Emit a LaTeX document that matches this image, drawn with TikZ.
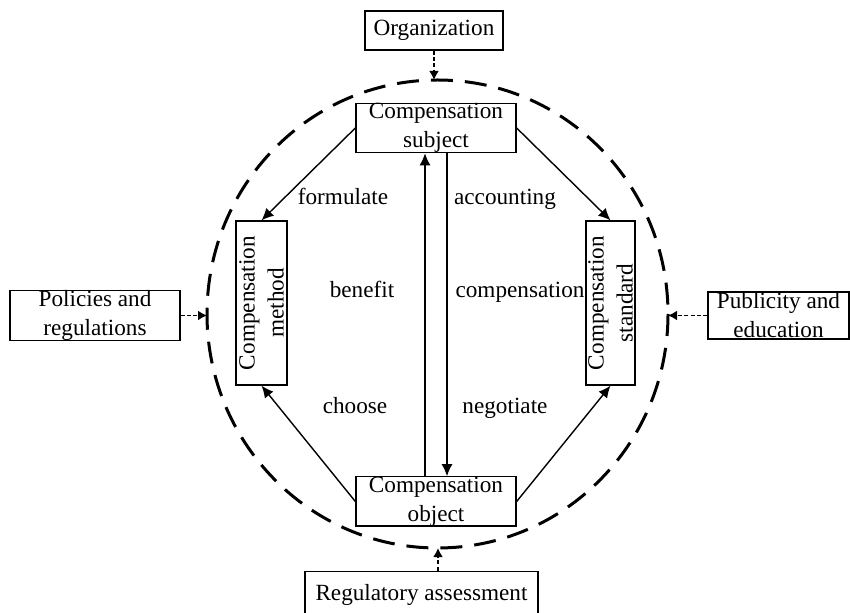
\documentclass[tikz,border=0pt]{standalone}
\usepackage{fontspec}
\setmainfont{Liberation Serif}
\usepackage{tikz}
\usetikzlibrary{arrows.meta, positioning}

\begin{document}
\begin{tikzpicture}[x=0.5pt, y=-0.5pt,
        every node/.style={font=\fontsize{11.6}{14.5}\selectfont, align=center, inner sep=0pt},
        box/.style={draw, line width=0.65pt},
        lbl/.style={anchor=base},
        solidarrow/.style={-{Latex[length=6pt,width=5.5pt]}, line width=0.7pt},
        dotarrow/.style={-{Latex[length=4.5pt,width=5pt]}, line width=0.9pt, dash pattern=on 2pt off 1.2pt},
        ring/.style={line width=1.5pt, dash pattern=on 11pt off 6pt},
    ]
    \useasboundingbox (0,0) rectangle (850,613);
    % outer ring
    \draw[ring] (437.5,314) ellipse [x radius=230.5, y radius=234];
    \coordinate (rtop) at (434,80);
    \coordinate (rbot) at (438,548);
    \coordinate (rleft) at (207,315.5);
    \coordinate (rright) at (668,315.5);
    % boxes
    \node (org) at (434,30.5) [box, minimum width=69pt, minimum height=19.5pt] {Organization};
    \node (subj) at (436,128) [box, minimum width=80pt, minimum height=24pt] {Compensation\\subject};
    \node (obj) at (436,501.5) [box, minimum width=80pt, minimum height=23.5pt] {Compensation\\object};
    \node (meth) at (261.5,303) [box, rotate=90, minimum width=82pt, minimum height=25.5pt] {Compensation\\method};
    \node (stand) at (610.5,303) [box, rotate=90, minimum width=82pt, minimum height=24.5pt] {Compensation\\standard};
    \node (pol) at (95,315.5) [box, minimum width=85pt, minimum height=23.5pt] {Policies and\\regulations};
    \node (pub) at (778.5,315.5) [box, minimum width=70.5pt, minimum height=23.5pt] {Publicity and\\education};
    \node (reg) at (421.5,595) [box, minimum width=116.5pt, minimum height=23.5pt] {Regulatory assessment};
    % connectors
    \draw[solidarrow] (subj.west) -- (meth.east);
    \draw[solidarrow] (subj.east) -- (stand.east);
    \draw[solidarrow] (obj.west) -- (meth.west);
    \draw[solidarrow] (obj.east) -- (stand.west);
    \draw[solidarrow] ([xshift=-5.5pt]obj.north) -- ([xshift=-5.5pt]subj.south);
    \draw[solidarrow] ([xshift=5.5pt]subj.south) -- ([xshift=5.5pt]obj.north);
    \draw[dotarrow] (org.south) -- (rtop);
    \draw[dotarrow] (pol.east) -- (rleft);
    \draw[dotarrow] (pub.west) -- (rright);
    \draw[dotarrow] (rbot |- reg.north) -- (rbot);
    % labels
    \node (lformulate) at (343,205) [lbl] {formulate};
    \node (laccounting) at (505,205) [lbl] {accounting};
    \node (lbenefit) at (362,298) [lbl] {benefit};
    \node (lcompensation) at (520,298) [lbl] {compensation};
    \node (lchoose) at (355,414) [lbl] {choose};
    \node (lnegotiate) at (505,414) [lbl] {negotiate};
\end{tikzpicture}
\end{document}
